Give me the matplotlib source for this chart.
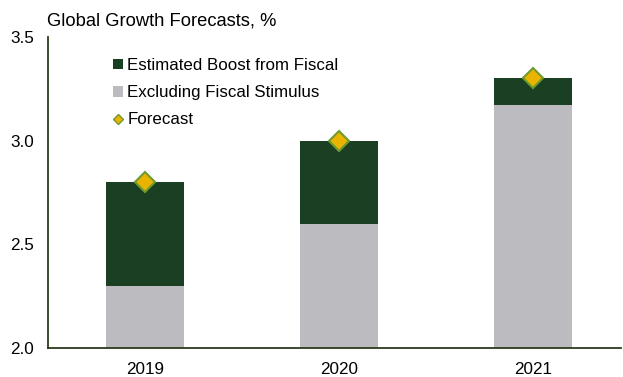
import matplotlib
matplotlib.use("Agg")
import matplotlib.pyplot as plt
import numpy as np
from matplotlib.lines import Line2D
from matplotlib.patches import Patch

plt.rcParams['font.family'] = ['Liberation Sans', 'DejaVu Sans']

years = ["2019", "2020", "2021"]
excluding = [2.30, 2.60, 3.17]
forecast = [2.80, 3.00, 3.30]
boost = [f - e for f, e in zip(forecast, excluding)]

dark = "#1a3f22"
grey = "#bbbbc0"
gold = "#e8b400"
edge = "#6f9a2e"

fig = plt.figure(figsize=(6.23, 3.77), dpi=100)
ax = fig.add_axes([48/623, 1-348/377, (621-48)/623, (348-37)/377])
x = np.arange(len(years))
w = 0.4
ax.bar(x, np.array(excluding) - 2.0, w, bottom=2.0, color=grey)
ax.bar(x, boost, w, bottom=excluding, color=dark)
ax.plot(x, forecast, linestyle='none', marker='D', markersize=10,
        markerfacecolor=gold, markeredgecolor=edge, markeredgewidth=1.5, clip_on=False)

ax.set_ylim(2.0, 3.5)
ax.set_xlim(-0.5, 2.455)
ax.set_yticks([2.0, 2.5, 3.0, 3.5])
ax.set_yticklabels(["2.0", "2.5", "3.0", "3.5"])
ax.set_xticks(x)
ax.set_xticklabels(years)
ax.tick_params(axis='both', length=0, labelsize=12.3, colors='black')
ax.tick_params(axis='y', pad=10)
ax.tick_params(axis='x', pad=10)
for s in ['top', 'right']:
    ax.spines[s].set_visible(False)
for s in ['left', 'bottom']:
    ax.spines[s].set_color("#2b3a1c")
    ax.spines[s].set_linewidth(1.3)

fig.text(47/623, 1-21/377, "Global Growth Forecasts, %", fontsize=13.2, va='center', ha='left')

handles = [Patch(facecolor=dark, edgecolor='none'),
           Patch(facecolor=grey, edgecolor='none'),
           Line2D([], [], linestyle='none', marker='D', markersize=5,
                  markerfacecolor=gold, markeredgecolor=edge, markeredgewidth=1)]
labels = ["Estimated Boost from Fiscal", "Excluding Fiscal Stimulus", "Forecast"]
leg = ax.legend(handles, labels, loc='upper left', bbox_to_anchor=(113/623, 1-58/377),
                bbox_transform=fig.transFigure, frameon=False, fontsize=12.2,
                handlelength=0.6, handleheight=0.6, handletextpad=0.25, labelspacing=0.72,
                borderpad=0, borderaxespad=0)

fig.savefig("out.png", dpi=100)
